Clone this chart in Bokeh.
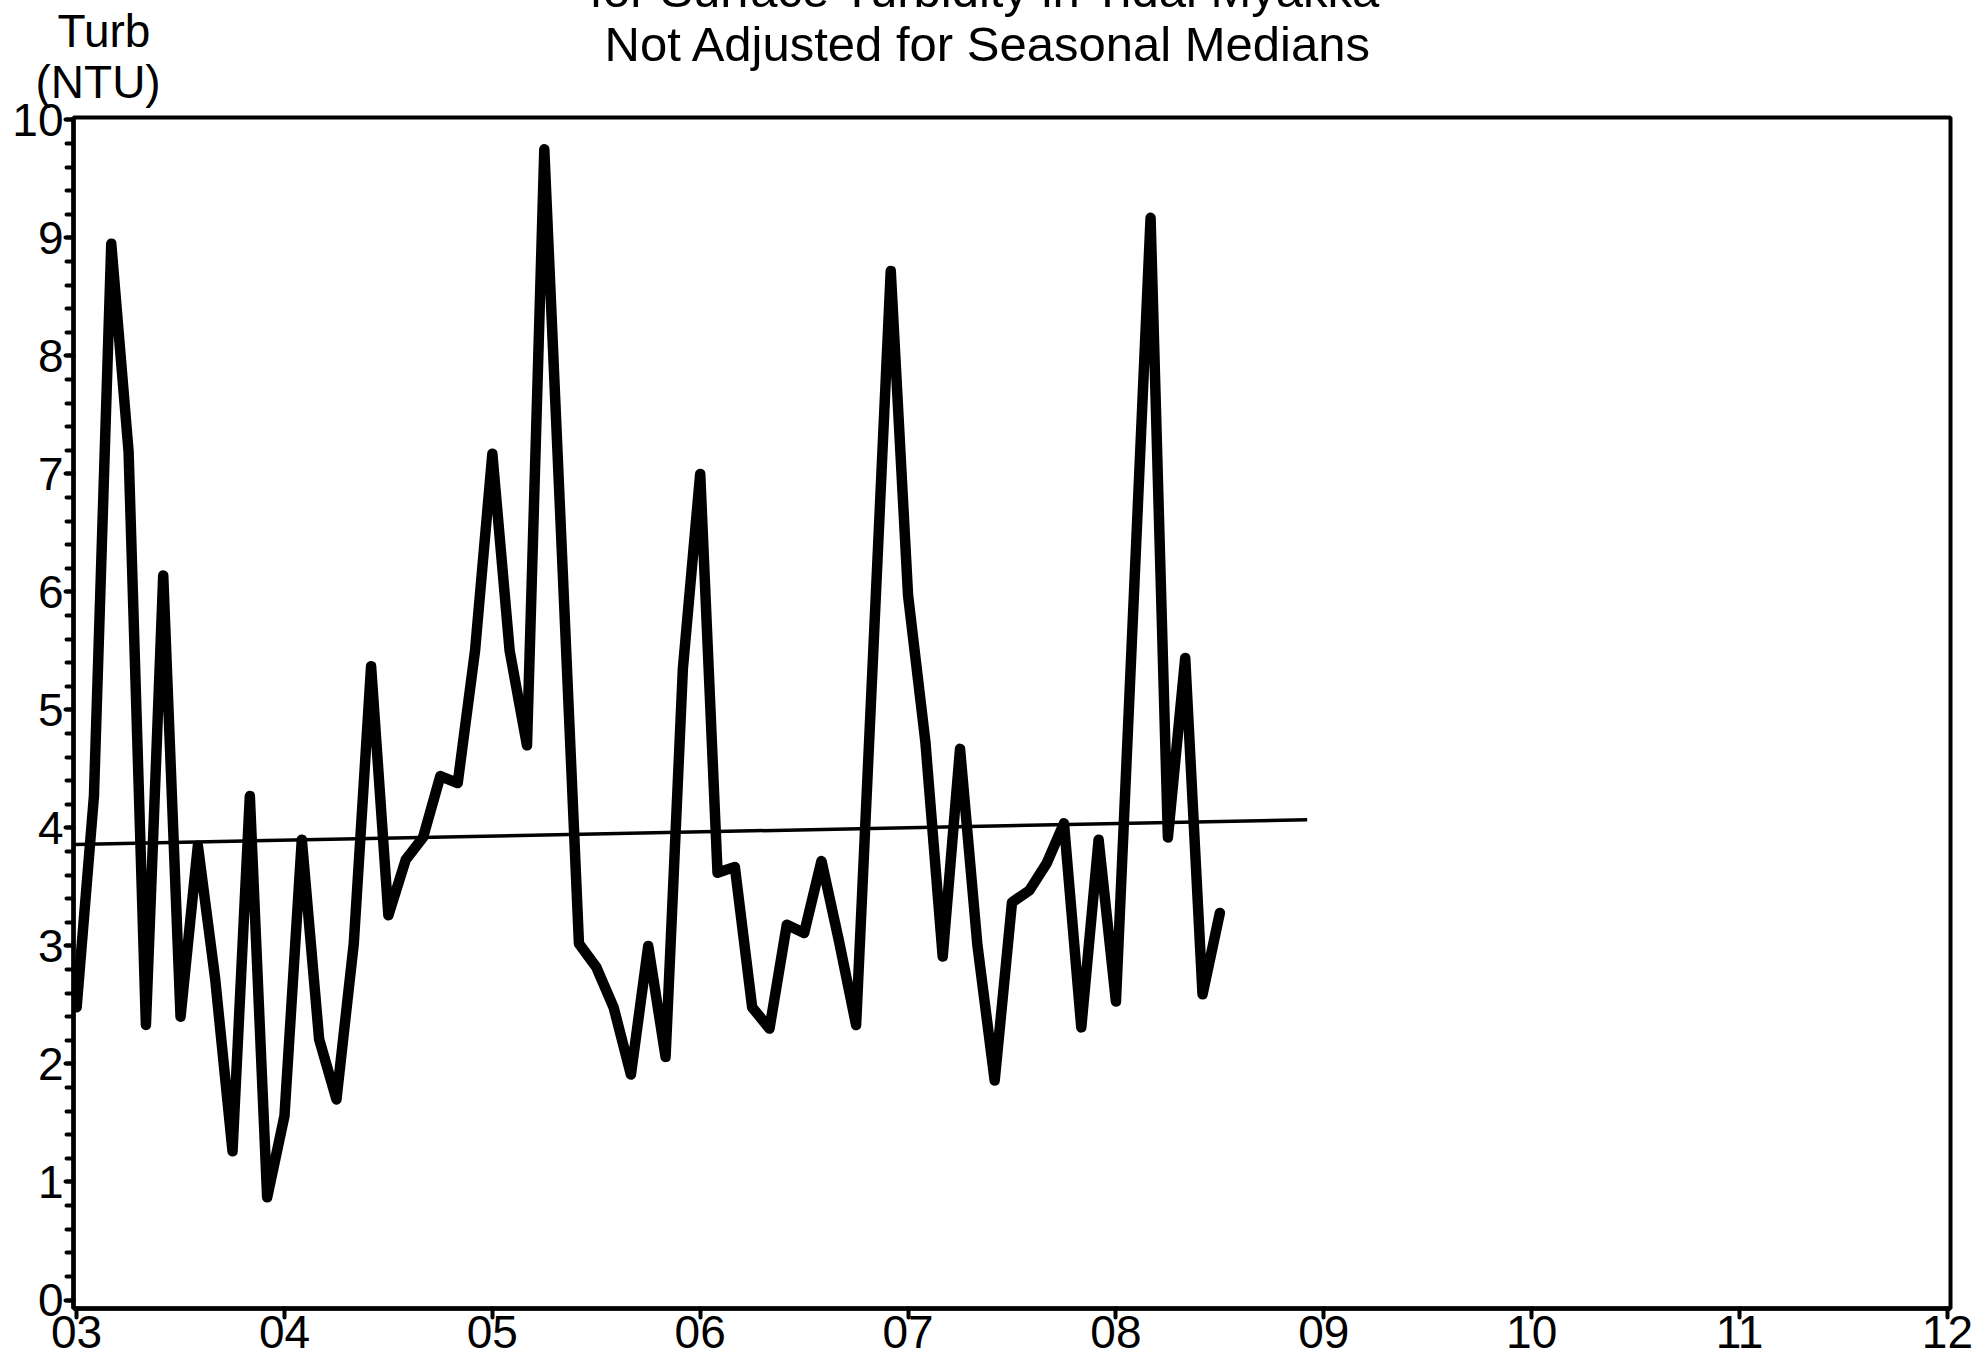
from bokeh.plotting import figure
from bokeh.models import Range1d, FixedTicker, SingleIntervalTicker, Title
from bokeh.embed import file_html
from bokeh.resources import INLINE

# ---- data ----
# month index counted from Jan 2003 (k = 0) ; missing months are simply absent
month_index = [0, 1, 2, 3, 4, 5, 6, 7, 8, 9, 10, 11, 12, 13, 14, 15, 16, 17, 18, 19,
               20, 21, 22, 23, 24, 25, 26, 27, 29, 30, 31, 32, 33, 34, 35, 36, 37, 38,
               39, 40, 41, 42, 43, 44, 45, 47, 48, 49, 50, 51, 52, 53, 54, 55, 56, 57,
               58, 59, 60, 62, 63, 64, 65, 66]
turbidity = [2.48, 4.27, 8.95, 7.19, 2.33, 6.14, 2.40, 3.85, 2.72, 1.26, 4.27, 0.87,
             1.56, 3.90, 2.21, 1.70, 3.02, 5.37, 3.26, 3.73, 3.92, 4.44, 4.38, 5.50,
             7.17, 5.50, 4.70, 9.75, 3.02, 2.82, 2.48, 1.91, 3.00, 2.06, 5.35, 7.00,
             3.62, 3.67, 2.48, 2.30, 3.18, 3.11, 3.72, 3.05, 2.33, 8.72, 5.97, 4.73,
             2.91, 4.67, 3.01, 1.86, 3.37, 3.47, 3.70, 4.04, 2.31, 3.90, 2.53, 9.17,
             3.92, 5.44, 2.59, 3.28]
years = [3 + k / 12 for k in month_index]

trend_x = [2.99, 8.92]
trend_y = [3.86, 4.07]

x_ticks = [3, 4, 5, 6, 7, 8, 9, 10, 11, 12]
x_tick_labels = ["03", "04", "05", "06", "07", "08", "09", "10", "11", "12"]

title_lines = ["for Surface Turbidity in Tidal Myakka", "Not Adjusted for Seasonal Medians"]
y_label_lines = ["Turb", "(NTU)"]

FONT = "Liberation Sans"

p = figure(width=1978, height=1366, output_backend="svg", toolbar_location=None,
           x_range=Range1d(2.985, 12.015), y_range=Range1d(-0.072, 10.02),
           min_border_left=73, min_border_right=28, min_border_top=0,
           min_border_bottom=58)
p.grid.visible = False
p.background_fill_color = "white"
p.border_fill_color = "white"
p.outline_line_color = "black"
p.outline_line_width = 4

p.line(years, turbidity, line_width=10.5, line_color="black",
       line_join="round", line_cap="round")
p.line(trend_x, trend_y, line_width=3.5, line_color="black")

for ax in (p.xaxis[0], p.yaxis[0]):
    ax.axis_line_width = 4.5
    ax.axis_line_color = "black"
    ax.major_tick_line_width = 4
    ax.major_tick_line_cap = "round"
    ax.minor_tick_line_width = 4
    ax.minor_tick_line_cap = "round"
    ax.major_tick_in = 0
    ax.minor_tick_in = 0
    ax.major_label_text_font = FONT
    ax.major_label_text_font_size = "46px"
    ax.major_label_text_color = "black"

xa = p.xaxis[0]
xa.ticker = FixedTicker(ticks=x_ticks)
xa.major_label_overrides = {t: l for t, l in zip(x_ticks, x_tick_labels)}
xa.major_tick_out = 9
xa.minor_tick_line_color = None
xa.major_label_standoff = -2

ya = p.yaxis[0]
ya.ticker = SingleIntervalTicker(interval=1, num_minor_ticks=5)
ya.major_tick_out = 8
ya.minor_tick_out = 7
ya.major_label_standoff = 2

# spacer title nearest the frame: fixes the height of the top border (~117 px)
p.add_layout(Title(text=" ", text_font=FONT, text_font_size="10px",
                   text_font_style="normal", standoff=103.8), "above")

# text titles in zero-height slots at the top of the page, placed by standoff
def add_text(txt, size, offset, valign, standoff):
    p.add_layout(Title(text=txt, text_font=FONT, text_font_size=size,
                       text_font_style="normal", text_color="black",
                       align="left", offset=offset, vertical_align=valign,
                       standoff=standoff), "above")

add_text(y_label_lines[1], "46px", -38, "bottom", -215.0)   # box bottom ~107.5
add_text(title_lines[1], "49px", 531, "bottom", -140.8)     # box bottom ~70.4
add_text(y_label_lines[0], "46px", -16, "bottom", -113.0)   # box bottom ~56.5
add_text(title_lines[0], "49px", 516, "top", -74.6)         # box top ~-37.3

open("out.html", "w").write(file_html(p, INLINE))
